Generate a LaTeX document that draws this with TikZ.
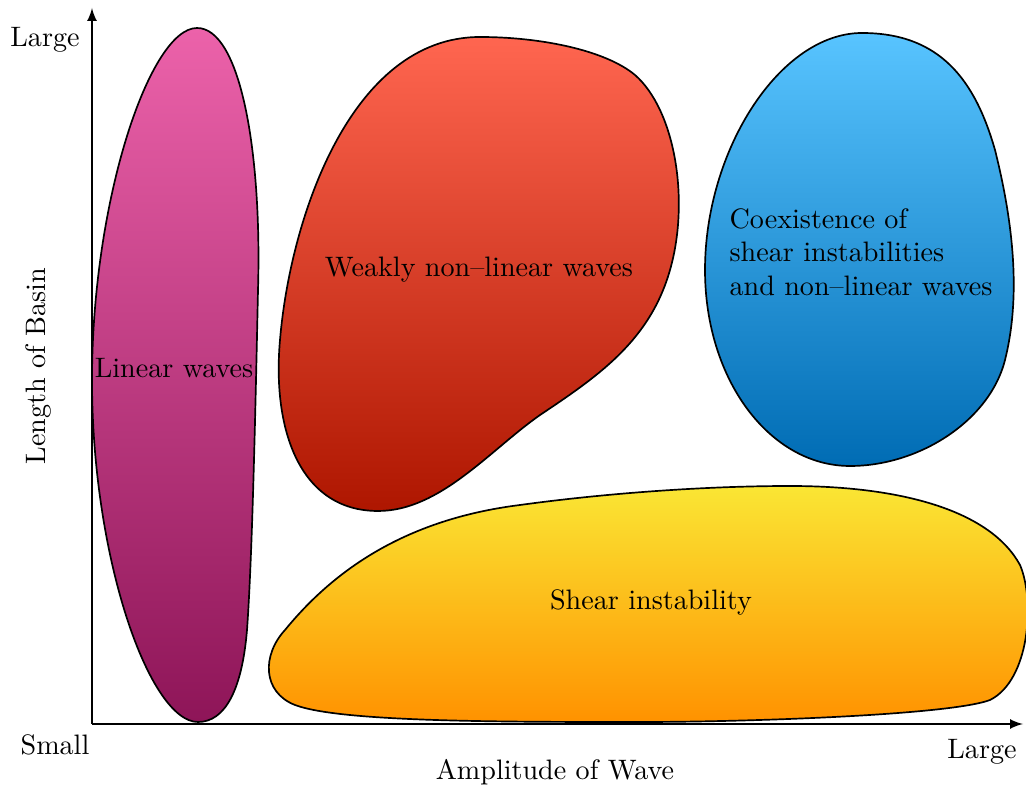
\documentclass[tikz,border=0pt]{standalone}
\usetikzlibrary{arrows}
\definecolor{pinktop}{HTML}{EC62AA}
\definecolor{pinkbot}{HTML}{8E1558}
\definecolor{redtop}{HTML}{FF6650}
\definecolor{redbot}{HTML}{AE1600}
\definecolor{bluetop}{HTML}{58C4FF}
\definecolor{bluebot}{HTML}{006CB4}
\definecolor{yeltop}{HTML}{FAE634}
\definecolor{yelbot}{HTML}{FF9200}
\begin{document}
\begin{tikzpicture}[x=0.0125cm,y=-0.0125cm,semithick]
\useasboundingbox (0,0) rectangle (1026,788);

% regions
\shadedraw[top color=pinktop,bottom color=pinkbot] (197,28)
 .. controls (240,28) and (262,150) .. (258,290)
 .. controls (255,430) and (252,560) .. (247,630)
 .. controls (242,690) and (225,722) .. (198,722)
 .. controls (150,722) and (92,560) .. (92,380)
 .. controls (92,200) and (150,28) .. (197,28) -- cycle;
\shadedraw[top color=redtop,bottom color=redbot] (480,37)
 .. controls (540,37) and (605,50) .. (635,75)
 .. controls (675,110) and (690,200) .. (670,270)
 .. controls (650,340) and (600,375) .. (540,415)
 .. controls (490,450) and (440,511) .. (378,511)
 .. controls (300,511) and (272,430) .. (280,340)
 .. controls (290,220) and (350,37) .. (480,37) -- cycle;
\shadedraw[top color=bluetop,bottom color=bluebot] (862,33)
 .. controls (940,33) and (975,80) .. (995,150)
 .. controls (1015,230) and (1020,300) .. (1005,360)
 .. controls (990,420) and (920,466) .. (850,466)
 .. controls (770,466) and (705,380) .. (705,270)
 .. controls (705,150) and (780,33) .. (862,33) -- cycle;
\shadedraw[top color=yeltop,bottom color=yelbot] (790,486)
 .. controls (900,486) and (990,510) .. (1020,565)
 .. controls (1035,600) and (1030,680) .. (990,700)
 .. controls (950,715) and (750,722) .. (640,722)
 .. controls (500,722) and (340,722) .. (295,705)
 .. controls (262,692) and (262,655) .. (285,630)
 .. controls (330,575) and (400,520) .. (520,505)
 .. controls (600,494) and (700,486) .. (790,486) -- cycle;

% axes
\coordinate (o) at (92,724);
\coordinate (ymax) at (92,8);
\coordinate (xmax) at (1023,724);
\draw[-latex] (o) -- (ymax);
\draw[-latex] (o) -- (xmax);

\node (v1) at (45,40) {Large};
\node (v2) at (55,745) {Small};
\node (v3) at (982,752) {Large};
\node (v4) at (555,772) {Amplitude of Wave};
\node[rotate=90] (v5) at (38,366) {Length of Basin};

\node (r1) at (174,368) {Linear waves};
\node (r2) at (479,270) {Weakly non--linear waves};
\node[align=left] (r3) at (861,252) {Coexistence of\\shear instabilities\\and non--linear waves};
\node (r4) at (651,602) {Shear instability};
\end{tikzpicture}
\end{document}
